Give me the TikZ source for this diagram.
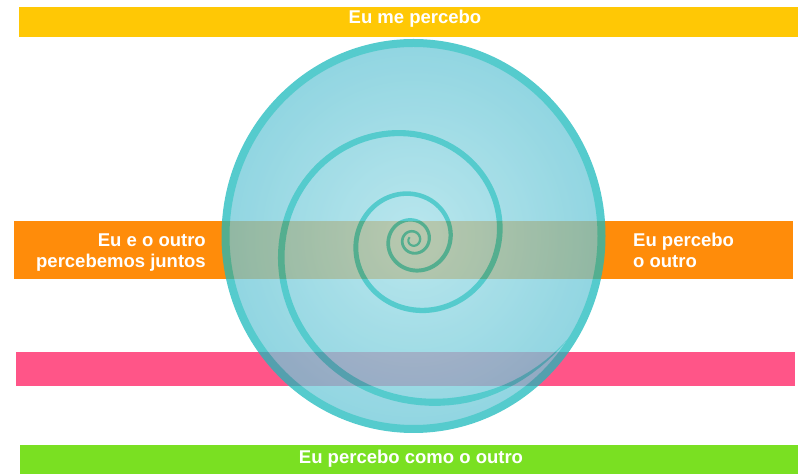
\documentclass[tikz,border=0pt]{standalone}
\usepackage{fontspec}
\setmainfont{Liberation Sans}
\definecolor{barYellow}{HTML}{FFC805}
\definecolor{barOrange}{HTML}{FF8C0A}
\definecolor{barPink}{HTML}{FF5588}
\definecolor{barGreen}{HTML}{7AE022}
\definecolor{ringTeal}{HTML}{1CBABC}
\definecolor{discIn}{HTML}{A2DEE7}
\definecolor{discOut}{HTML}{6CC7D7}
\tikzset{
	bar/.style={draw=none},
	lbl/.style={text=white, inner sep=0pt, font=\bfseries\fontsize{18.5}{21}\selectfont},
}
\begin{document}
\begin{tikzpicture}[x=1pt, y=1pt,
		declare function={
			sr(\t)=106*exp(0.002314*(\t-90));
			sw(\t)=1.2*sr(\t)^0.35*min(1,(328-\t)/40);
		}]
	\useasboundingbox (0,0) rectangle (800,476);
	% bars
	\fill[bar, barYellow] (19,439) rectangle (798,469);
	\fill[bar, barOrange] (14,197) rectangle (793,255);
	\fill[bar, barPink] (16,90) rectangle (795,124);
	\fill[bar, barGreen] (20,2) rectangle (798,31);
	
	% disc and spiral
	\begin{scope}[transparency group, opacity=0.75]
		\shade[inner color=discIn, outer color=discOut] (413.5,240) ellipse [x radius=188, y radius=193];
		\fill[ringTeal]
			plot[domain=-1300:328, samples=500] ({413+(sr(\x)+sw(\x)/2)*cos(\x)}, {236+(sr(\x)+sw(\x)/2)*sin(\x)})
			-- plot[domain=328:-1300, samples=500] ({413+(sr(\x)-sw(\x)/2)*cos(\x)}, {236+(sr(\x)-sw(\x)/2)*sin(\x)})
			-- cycle;
		\draw[ringTeal, line width=8] (413.5,240) ellipse [x radius=188, y radius=193];
	\end{scope}
	
	% labels
	\node[lbl, anchor=base] (mepercebo) at (415,452) {Eu me percebo};
	\node[lbl, anchor=base east, align=right] (juntos) at (206,208) {Eu e o outro\\percebemos juntos};
	\node[lbl, anchor=base west, align=left] (ooutro) at (633,208) {Eu percebo\\o outro};
	\node[lbl, anchor=base] (comooutro) at (411,12) {Eu percebo como o outro};
\end{tikzpicture}
\end{document}
